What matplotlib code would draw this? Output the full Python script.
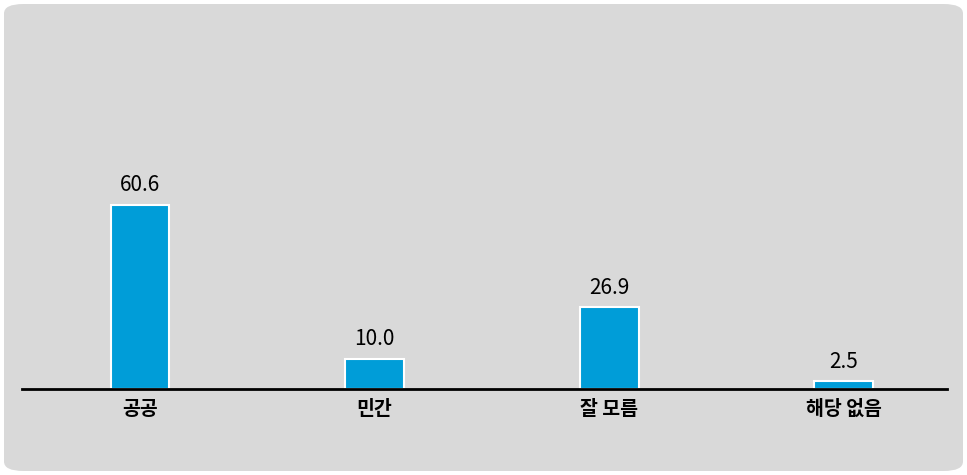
import matplotlib
matplotlib.use("Agg")
import matplotlib.pyplot as plt
from matplotlib.patches import FancyBboxPatch

plt.rcParams['font.family'] = ['Noto Sans CJK KR', 'DejaVu Sans']

categories = ['공공', '민간', '잘 모름', '해당 없음']
values = [60.6, 10.0, 26.9, 2.5]

fig = plt.figure(figsize=(9.67, 4.75), dpi=100)
fig.patch.set_facecolor('white')

# rounded grey panel behind everything
bg = FancyBboxPatch((4 / 967, 4 / 475), 959 / 967, 467 / 475,
                    boxstyle="round,pad=0,rounding_size=0.02",
                    transform=fig.transFigure, facecolor='#d9d9d9',
                    edgecolor='none', zorder=-5)
fig.patches.append(bg)

ax = fig.add_axes([22 / 967, 1 - 389 / 475, 925 / 967, 359 / 475])
ax.set_facecolor('none')

x = list(range(len(categories)))
bars = ax.bar(x, values, width=0.25, color='#009dd8', edgecolor='white',
              linewidth=1.5, zorder=2)

for xi, v in zip(x, values):
    ax.annotate(f'{v:.1f}', (xi, v), xytext=(0, 6), textcoords='offset points',
                ha='center', va='bottom', fontsize=15, color='black')

ax.set_xlim(-0.503, 3.44)
ax.set_ylim(0, 118)
ax.set_xticks(x)
ax.set_xticklabels(categories, fontsize=14, fontweight='bold')
ax.tick_params(axis='x', length=0, pad=8)
ax.set_yticks([])
for s in ['top', 'right', 'left']:
    ax.spines[s].set_visible(False)
ax.spines['bottom'].set_linewidth(2)
ax.spines['bottom'].set_color('black')

fig.savefig('out.png', dpi=100, facecolor=fig.get_facecolor())
